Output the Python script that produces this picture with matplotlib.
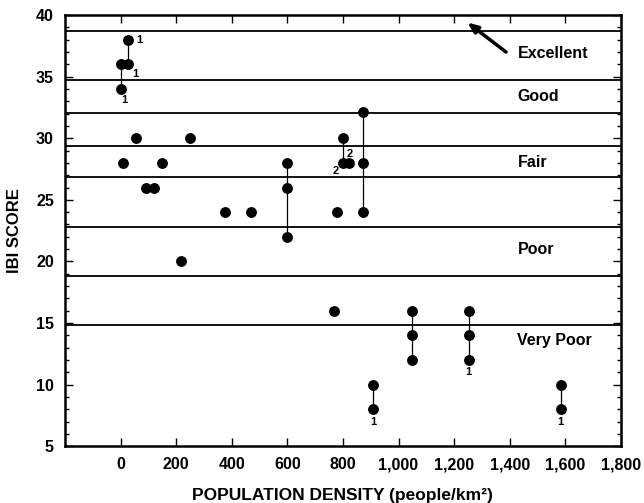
import matplotlib
matplotlib.use("Agg")
import matplotlib.pyplot as plt
from matplotlib.ticker import MultipleLocator, FuncFormatter

plt.rcParams['font.family'] = ['Liberation Sans', 'DejaVu Sans']
plt.rcParams['font.weight'] = 'bold'

# Data (population density, IBI score, connected-group id)
density = [26, 2, 26, 2, 56, 251, 8, 149, 92, 120, 375, 468,
           600, 600, 600, 800, 800, 822, 778, 874, 874, 874, 216, 768,
           1047, 1047, 1047, 1253, 1253, 1253, 908, 908, 1583, 1583]
ibi = [38, 36, 36, 34, 30, 30, 28, 28, 26, 26, 24, 24,
       28, 26, 22, 30, 28, 28, 24, 32.1, 28, 24, 20, 16,
       16, 14, 12, 16, 14, 12, 10, 8, 10, 8]
group = ['a', 'b', 'a', 'b', None, None, None, None, None, None, None, None,
         'c', 'c', 'c', 'd', 'd', None, None, 'e', 'e', 'e', None, None,
         'f', 'f', 'f', 'g', 'g', 'g', 'h', 'h', 'i', 'i']

# Category boundary lines
boundaries = [38.72, 34.75, 32.04, 29.4, 26.84, 22.8, 18.82, 14.87]
categories = ['Excellent', 'Good', 'Fair', 'Poor', 'Very Poor']
category_y = [36.9, 33.4, 28.05, 21.0, 13.6]

# Point annotations: (x, y, text)
notes = [(26, 38, '1'), (26, 36, '1'), (2, 34, '1'), (800, 30, '2'),
         (800, 28, '2'), (1253, 12, '1'), (908, 8, '1'), (1583, 8, '1')]
note_offsets = [(6, 0), (3, -7), (2, -8), (5, -11), (-5, -6), (0, -9), (0, -9), (0, -9)]
note_align = ['left', 'left', 'center', 'center', 'center', 'center', 'center', 'center']

fig = plt.figure(figsize=(6.44, 5.03), dpi=100)
ax = fig.add_axes([0.101, 0.113, 0.863, 0.857])

for b in boundaries:
    ax.axhline(b, color='black', lw=1.3, zorder=1)

# connecting lines
groups = {}
for x, y, g in zip(density, ibi, group):
    if g is not None:
        groups.setdefault(g, []).append((x, y))
for g, pts in groups.items():
    xs = [p[0] for p in pts]
    ys = [p[1] for p in pts]
    ax.vlines(xs[0], min(ys), max(ys), color='black', lw=0.9, zorder=2)

ax.plot(density, ibi, 'o', color='black', markersize=6.8, zorder=3, linestyle='none')

for (x, y, t), off, ha in zip(notes, note_offsets, note_align):
    ax.annotate(t, (x, y), xytext=off, textcoords='offset points', ha=ha,
                va='center', fontsize=8, fontweight='bold')

for c, y in zip(categories, category_y):
    ax.text(1428, y, c, fontsize=11.5, fontweight='bold', va='center', ha='left')

ax.annotate('', xy=(1248, 39.4), xytext=(1387, 37.0),
            arrowprops=dict(arrowstyle='-|>,head_length=0.6,head_width=0.25',
                            color='black', lw=2.5, shrinkA=0, shrinkB=0))

ax.set_xlim(-200, 1800)
ax.set_ylim(5, 40)
ax.set_xticks(range(0, 1801, 200))
ax.xaxis.set_major_formatter(FuncFormatter(lambda v, p: f'{int(v):,}'))
ax.yaxis.set_major_locator(MultipleLocator(5))
ax.yaxis.set_minor_locator(MultipleLocator(1))
ax.tick_params(axis='both', which='both', direction='in', top=True, right=True,
               labelsize=11.5, width=1)
ax.tick_params(axis='both', which='major', length=6, pad=8)
ax.tick_params(axis='y', which='minor', length=3)
ax.tick_params(axis='x', which='minor', length=0)
for lab in ax.get_xticklabels() + ax.get_yticklabels():
    lab.set_fontweight('bold')
for s in ax.spines.values():
    s.set_linewidth(1.8)

ax.set_xlabel('POPULATION DENSITY (people/km²)', fontsize=12.5, fontweight='bold', labelpad=11)
ax.set_ylabel('IBI SCORE', fontsize=12, fontweight='bold', labelpad=10)

fig.savefig('out.png', dpi=100)
